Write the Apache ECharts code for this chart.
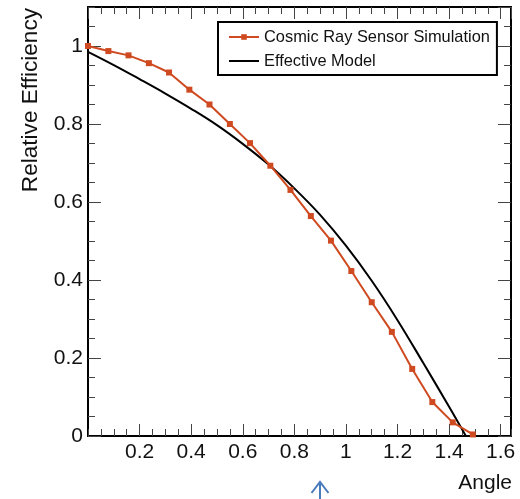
<!DOCTYPE html>
<html>
<head>
<meta charset="utf-8">
<script src="https://cdn.jsdelivr.net/npm/echarts@6/dist/echarts.min.js"></script>
<style>
  html, body { margin: 0; padding: 0; background: #fff; }
  #chart { width: 520px; height: 499px; }
</style>
</head>
<body>
<div id="chart"></div>
<script>
// Simulated relative efficiency vs. incidence angle (radians)
const simAngles = [0, 0.079, 0.157, 0.236, 0.314, 0.393, 0.471, 0.55, 0.628, 0.707,
                   0.785, 0.864, 0.942, 1.021, 1.1, 1.178, 1.257, 1.335, 1.414, 1.492];
const simEfficiency = [1.0, 0.987, 0.976, 0.956, 0.932, 0.888, 0.85, 0.8, 0.751, 0.693,
                       0.631, 0.564, 0.501, 0.423, 0.343, 0.267, 0.172, 0.087, 0.035, 0.004];

// Effective model curve samples
const modelAngles = [0, 0.1, 0.2, 0.3, 0.4, 0.5, 0.6, 0.7, 0.8, 0.9,
                     1.0, 1.1, 1.2, 1.3, 1.4, 1.465];
const modelEfficiency = [0.985, 0.951, 0.915, 0.878, 0.839, 0.797, 0.749, 0.696, 0.635, 0.567,
                         0.488, 0.398, 0.297, 0.187, 0.075, 0.0];

const seriesNames = ['Cosmic Ray Sensor Simulation', 'Effective Model'];
const xTitle = 'Angle';
const yTitle = 'Relative Efficiency';

const FONT = '"Liberation Sans", Arial, Helvetica, sans-serif';
const X_MIN = 0, X_MAX = 1.64, Y_MIN = 0, Y_MAX = 1.1;
const TICK_COLOR = '#444';

function zip(xs, ys) { return xs.map((x, i) => [x, ys[i]]); }

// One side of the plot frame: major ticks (with line/labels) or minor ticks only
function frameAxis(pos, interval, len, withLine, withLabels, isX) {
  return {
    type: 'value',
    position: pos,
    min: isX ? X_MIN : Y_MIN,
    max: isX ? X_MAX : Y_MAX,
    interval: interval,
    splitLine: { show: false },
    axisLine: { show: withLine, onZero: false, lineStyle: { color: '#000', width: 2 } },
    axisTick: { show: true, inside: true, length: len, lineStyle: { color: TICK_COLOR, width: 1 } },
    axisLabel: withLabels ? {
      show: true,
      fontFamily: FONT, fontSize: 21, color: '#111',
      margin: isX ? 6 : 5,
      showMinLabel: !isX,
      showMaxLabel: false,
      formatter: v => String(Math.round(v * 10) / 10)
    } : { show: false }
  };
}

const chart = echarts.init(document.getElementById('chart'), null, { renderer: 'canvas' });

chart.setOption({
  animation: false,
  backgroundColor: '#fff',
  grid: { left: 88, right: 9, top: 7, bottom: 63, containLabel: false },
  xAxis: [
    frameAxis('bottom', 0.2, 12, true, true, true),
    frameAxis('bottom', 0.05, 7, false, false, true),
    frameAxis('top', 0.2, 12, true, false, true),
    frameAxis('top', 0.05, 7, false, false, true)
  ],
  yAxis: [
    frameAxis('left', 0.2, 13, true, true, false),
    frameAxis('left', 0.05, 7, false, false, false),
    frameAxis('right', 0.2, 13, true, false, false),
    frameAxis('right', 0.05, 7, false, false, false)
  ],
  legend: {
    orient: 'vertical',
    left: 218, top: 22,
    padding: [7, 7, 6, 10],
    borderColor: '#000', borderWidth: 2,
    backgroundColor: '#fff',
    itemWidth: 30, itemHeight: 7, itemGap: 8,
    textStyle: { fontFamily: FONT, fontSize: 16.4, color: '#111' },
    data: seriesNames
  },
  series: [
    {
      name: seriesNames[0],
      type: 'line',
      data: zip(simAngles, simEfficiency),
      symbol: 'rect', symbolSize: 6,
      lineStyle: { color: '#cf4a20', width: 2 },
      itemStyle: { color: '#cf4a20' },
      z: 3
    },
    {
      name: seriesNames[1],
      type: 'line',
      data: zip(modelAngles, modelEfficiency),
      smooth: 0.4,
      showSymbol: false, symbol: 'none',
      lineStyle: { color: '#000', width: 2 },
      itemStyle: { color: 'rgba(0,0,0,0)' },
      z: 2
    }
  ],
  graphic: [
    {
      type: 'text', x: 31, y: 8, rotation: Math.PI / 2,
      style: { text: yTitle, font: '22.6px ' + FONT, fill: '#111', align: 'right', verticalAlign: 'middle' }
    },
    {
      type: 'text', x: 512, y: 483,
      style: { text: xTitle, font: '21px ' + FONT, fill: '#111', align: 'right', verticalAlign: 'middle' }
    },
    {
      type: 'polyline',
      shape: { points: [[311.5, 493], [320, 482], [328.5, 493]] },
      style: { stroke: '#4a7bbd', lineWidth: 2, fill: null }
    },
    {
      type: 'line',
      shape: { x1: 320, y1: 483, x2: 320, y2: 499 },
      style: { stroke: '#4a7bbd', lineWidth: 2 }
    }
  ]
});
</script>
</body>
</html>
